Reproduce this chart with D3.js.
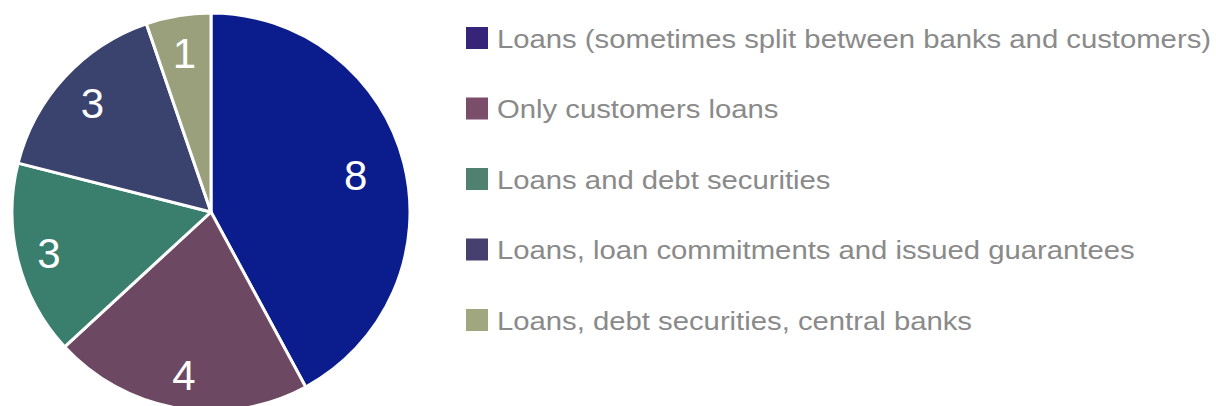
<!DOCTYPE html>
<html>
<head>
<meta charset="utf-8">
<script src="https://cdn.jsdelivr.net/npm/d3@7"></script>
<style>
  body { margin: 0; background: #fff; }
  svg { display: block; font-family: "Liberation Sans", Arial, sans-serif; }
</style>
</head>
<body>
<svg id="chart" width="1216" height="406"></svg>
<script>
// Chart data
var categories = [
  "Loans (sometimes split between banks and customers)",
  "Only customers loans",
  "Loans and debt securities",
  "Loans, loan commitments and issued guarantees",
  "Loans, debt securities, central banks"
];
var counts = [8, 4, 3, 3, 1];
var pieColors = ["#0b1c8c", "#6d4862", "#3a7f6e", "#3a436e", "#9aa07c"];
var legendColors = ["#352479", "#7a4d6a", "#4f8070", "#45406e", "#a0a67e"];

// label placement (fraction of radius), tuned by eye
var labelPos = [0.75, 0.83, 0.84, 0.81, 0.81];

var svg = d3.select("#chart");
var cx = 211, cy = 212, r = 199;

var pie = d3.pie().sort(null).value(function (d) { return d; });
var arc = d3.arc().innerRadius(0).outerRadius(r);

var g = svg.append("g").attr("transform", "translate(" + cx + "," + cy + ")");

var slices = pie(counts);

g.selectAll("path")
  .data(slices)
  .enter()
  .append("path")
  .attr("d", arc)
  .attr("fill", function (d, i) { return pieColors[i]; })
  .attr("stroke", "#fff")
  .attr("stroke-width", 3)
  .attr("stroke-linejoin", "round");

g.selectAll("text")
  .data(slices)
  .enter()
  .append("text")
  .attr("transform", function (d, i) {
    var lr = r * labelPos[i];
    var c = d3.arc().innerRadius(lr).outerRadius(lr).centroid(d);
    return "translate(" + c + ")";
  })
  .attr("text-anchor", "middle")
  .attr("dy", "0.36em")
  .attr("fill", "#fff")
  .style("font-size", "42px")
  .text(function (d) { return d.data; });

// Legend
var legendY = d3.scalePoint().domain(d3.range(categories.length)).range([38, 320]);

var legend = svg.append("g").selectAll("g")
  .data(categories)
  .enter()
  .append("g")
  .attr("transform", function (d, i) { return "translate(466," + legendY(i) + ")"; });

legend.append("rect")
  .attr("x", 0)
  .attr("y", -11)
  .attr("width", 22)
  .attr("height", 22)
  .attr("fill", function (d, i) { return legendColors[i]; });

// the source text is a bit wider than Arial, stretch it horizontally
legend.append("text")
  .attr("transform", "translate(31,0) scale(1.105,1)")
  .attr("dy", "0.36em")
  .attr("fill", "#8a8a8a")
  .style("font-size", "26.5px")
  .text(function (d) { return d; });
</script>
</body>
</html>
